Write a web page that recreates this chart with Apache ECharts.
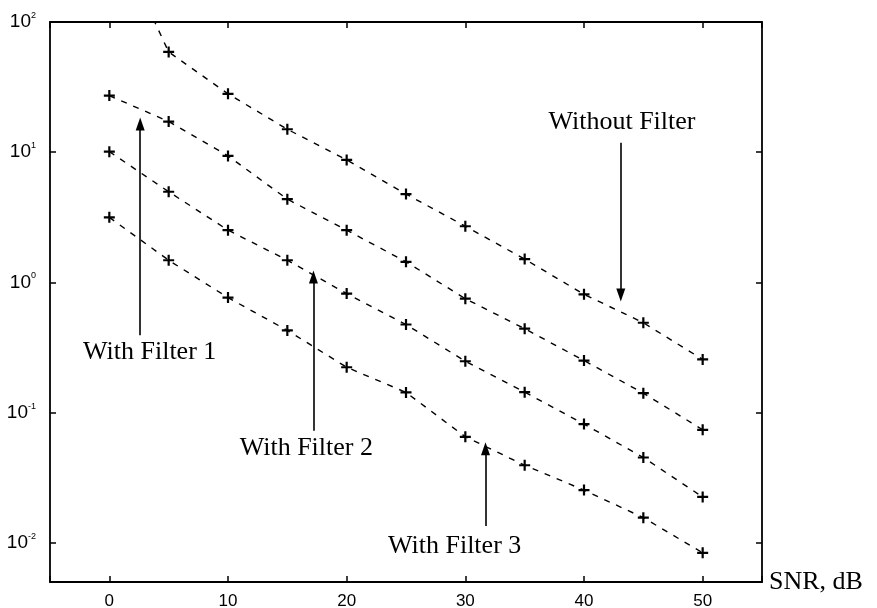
<!DOCTYPE html>
<html>
<head>
<meta charset="utf-8">
<script src="https://cdn.jsdelivr.net/npm/echarts@6/dist/echarts.min.js"></script>
<style>
  html, body { margin: 0; padding: 0; background: #ffffff; }
  #chart { width: 877px; height: 608px; }
</style>
</head>
<body>
<div id="chart"></div>
<script>
// SNR values (dB) at which each curve is sampled
const snr = [0, 5, 10, 15, 20, 25, 30, 35, 40, 45, 50];

// Error values per curve (log-scaled y axis)
const withoutFilter = [560, 58.9, 28.1, 15.0, 8.73, 4.77, 2.70, 1.51, 0.81, 0.49, 0.256];
const withFilter1   = [27.2, 17.2, 9.37, 4.36, 2.52, 1.44, 0.75, 0.441, 0.251, 0.141, 0.0738];
const withFilter2   = [10.1, 4.97, 2.52, 1.48, 0.82, 0.475, 0.248, 0.1436, 0.0817, 0.0452, 0.0225];
const withFilter3   = [3.16, 1.48, 0.764, 0.428, 0.223, 0.143, 0.0652, 0.0394, 0.0254, 0.0156, 0.00838];

const seriesNames = ['Without Filter', 'With Filter 1', 'With Filter 2', 'With Filter 3'];
const seriesValues = [withoutFilter, withFilter1, withFilter2, withFilter3];

// Callout labels and their arrows, in data coordinates (x = SNR, y = value)
const calloutText  = ['Without Filter', 'With Filter 1', 'With Filter 2', 'With Filter 3'];
const calloutAt    = [[43.2, 17.1], [3.4, 0.289], [16.6, 0.0537], [29.1, 0.00944]];
const arrowX       = [43.1, 2.6, 17.2, 31.7];
const arrowFromY   = [11.8, 0.392, 0.0726, 0.01345];
const arrowToY     = [0.80, 16.5, 1.10, 0.0527];

const BLACK = '#000000';
const PLUS = 'path://M4,0H6V4H10V6H6V10H4V6H0V4H4Z';

const decadeLabel = function (v) {
  const e = Math.log10(v);
  const r = Math.round(e);
  if (Math.abs(e - r) > 1e-6) return '';
  return '{b|10}{s|' + r + '}';
};

const series = seriesValues.map(function (vals, i) {
  return {
    name: seriesNames[i],
    type: 'line',
    data: vals.map(function (v, j) { return [snr[j], v]; }),
    symbol: PLUS,
    symbolSize: 11,
    showAllSymbol: true,
    clip: true,
    itemStyle: { color: BLACK },
    lineStyle: { color: BLACK, width: 1.4, type: [6, 7] },
    animation: false
  };
});

// Arrows and callout text ride on the first series
series[0].markLine = {
  silent: true,
  animation: false,
  symbol: ['none', 'triangle'],
  symbolSize: [9, 13],
  lineStyle: { color: BLACK, width: 1.6, type: 'solid' },
  label: { show: false },
  data: arrowX.map(function (x, i) {
    return [{ coord: [x, arrowFromY[i]] }, { coord: [x, arrowToY[i]] }];
  })
};
series[0].markPoint = {
  silent: true,
  animation: false,
  symbol: 'circle',
  symbolSize: 0,
  label: {
    show: true,
    position: 'inside',
    formatter: '{b}',
    color: BLACK,
    fontFamily: 'Liberation Serif',
    fontSize: 26
  },
  data: calloutAt.map(function (c, i) {
    return { name: calloutText[i], coord: c };
  })
};

const axisLineStyle = { show: true, onZero: false, lineStyle: { color: BLACK, width: 1.8 } };
const tickStyle = { show: true, inside: true, length: 6, lineStyle: { color: BLACK, width: 1.5 } };

const chart = echarts.init(document.getElementById('chart'), null, { renderer: 'canvas' });
chart.setOption({
  animation: false,
  backgroundColor: '#ffffff',
  grid: { left: 50, right: 115, top: 22, bottom: 26, containLabel: false, outerBoundsMode: 'none' },
  xAxis: [
    {
      type: 'value',
      min: -5,
      max: 55,
      position: 'bottom',
      axisLine: axisLineStyle,
      axisTick: tickStyle,
      splitLine: { show: false },
      axisLabel: {
        margin: 11,
        color: BLACK,
        fontFamily: 'Liberation Sans',
        fontSize: 17,
        formatter: function (v) { return v % 10 === 0 ? String(v) : ''; }
      },
      name: 'SNR, dB',
      nameLocation: 'end',
      nameGap: 7,
      nameTextStyle: {
        color: BLACK,
        fontFamily: 'Liberation Serif',
        fontSize: 26,
        verticalAlign: 'middle'
      }
    },
    {
      type: 'value',
      min: -5,
      max: 55,
      position: 'top',
      axisLine: axisLineStyle,
      axisTick: tickStyle,
      splitLine: { show: false },
      axisLabel: { show: false }
    }
  ],
  yAxis: [
    {
      type: 'log',
      logBase: 10,
      min: 0.005,
      max: 100,
      position: 'left',
      axisLine: axisLineStyle,
      axisTick: tickStyle,
      splitLine: { show: false },
      axisLabel: {
        margin: 14,
        formatter: decadeLabel,
        rich: {
          b: { color: BLACK, fontFamily: 'Liberation Sans', fontSize: 19, lineHeight: 22 },
          s: { color: BLACK, fontFamily: 'Liberation Sans', fontSize: 9, lineHeight: 10, verticalAlign: 'top' }
        }
      }
    },
    {
      type: 'log',
      logBase: 10,
      min: 0.005,
      max: 100,
      position: 'right',
      axisLine: axisLineStyle,
      axisTick: tickStyle,
      splitLine: { show: false },
      axisLabel: { show: false }
    }
  ],
  series: series
});
</script>
</body>
</html>
